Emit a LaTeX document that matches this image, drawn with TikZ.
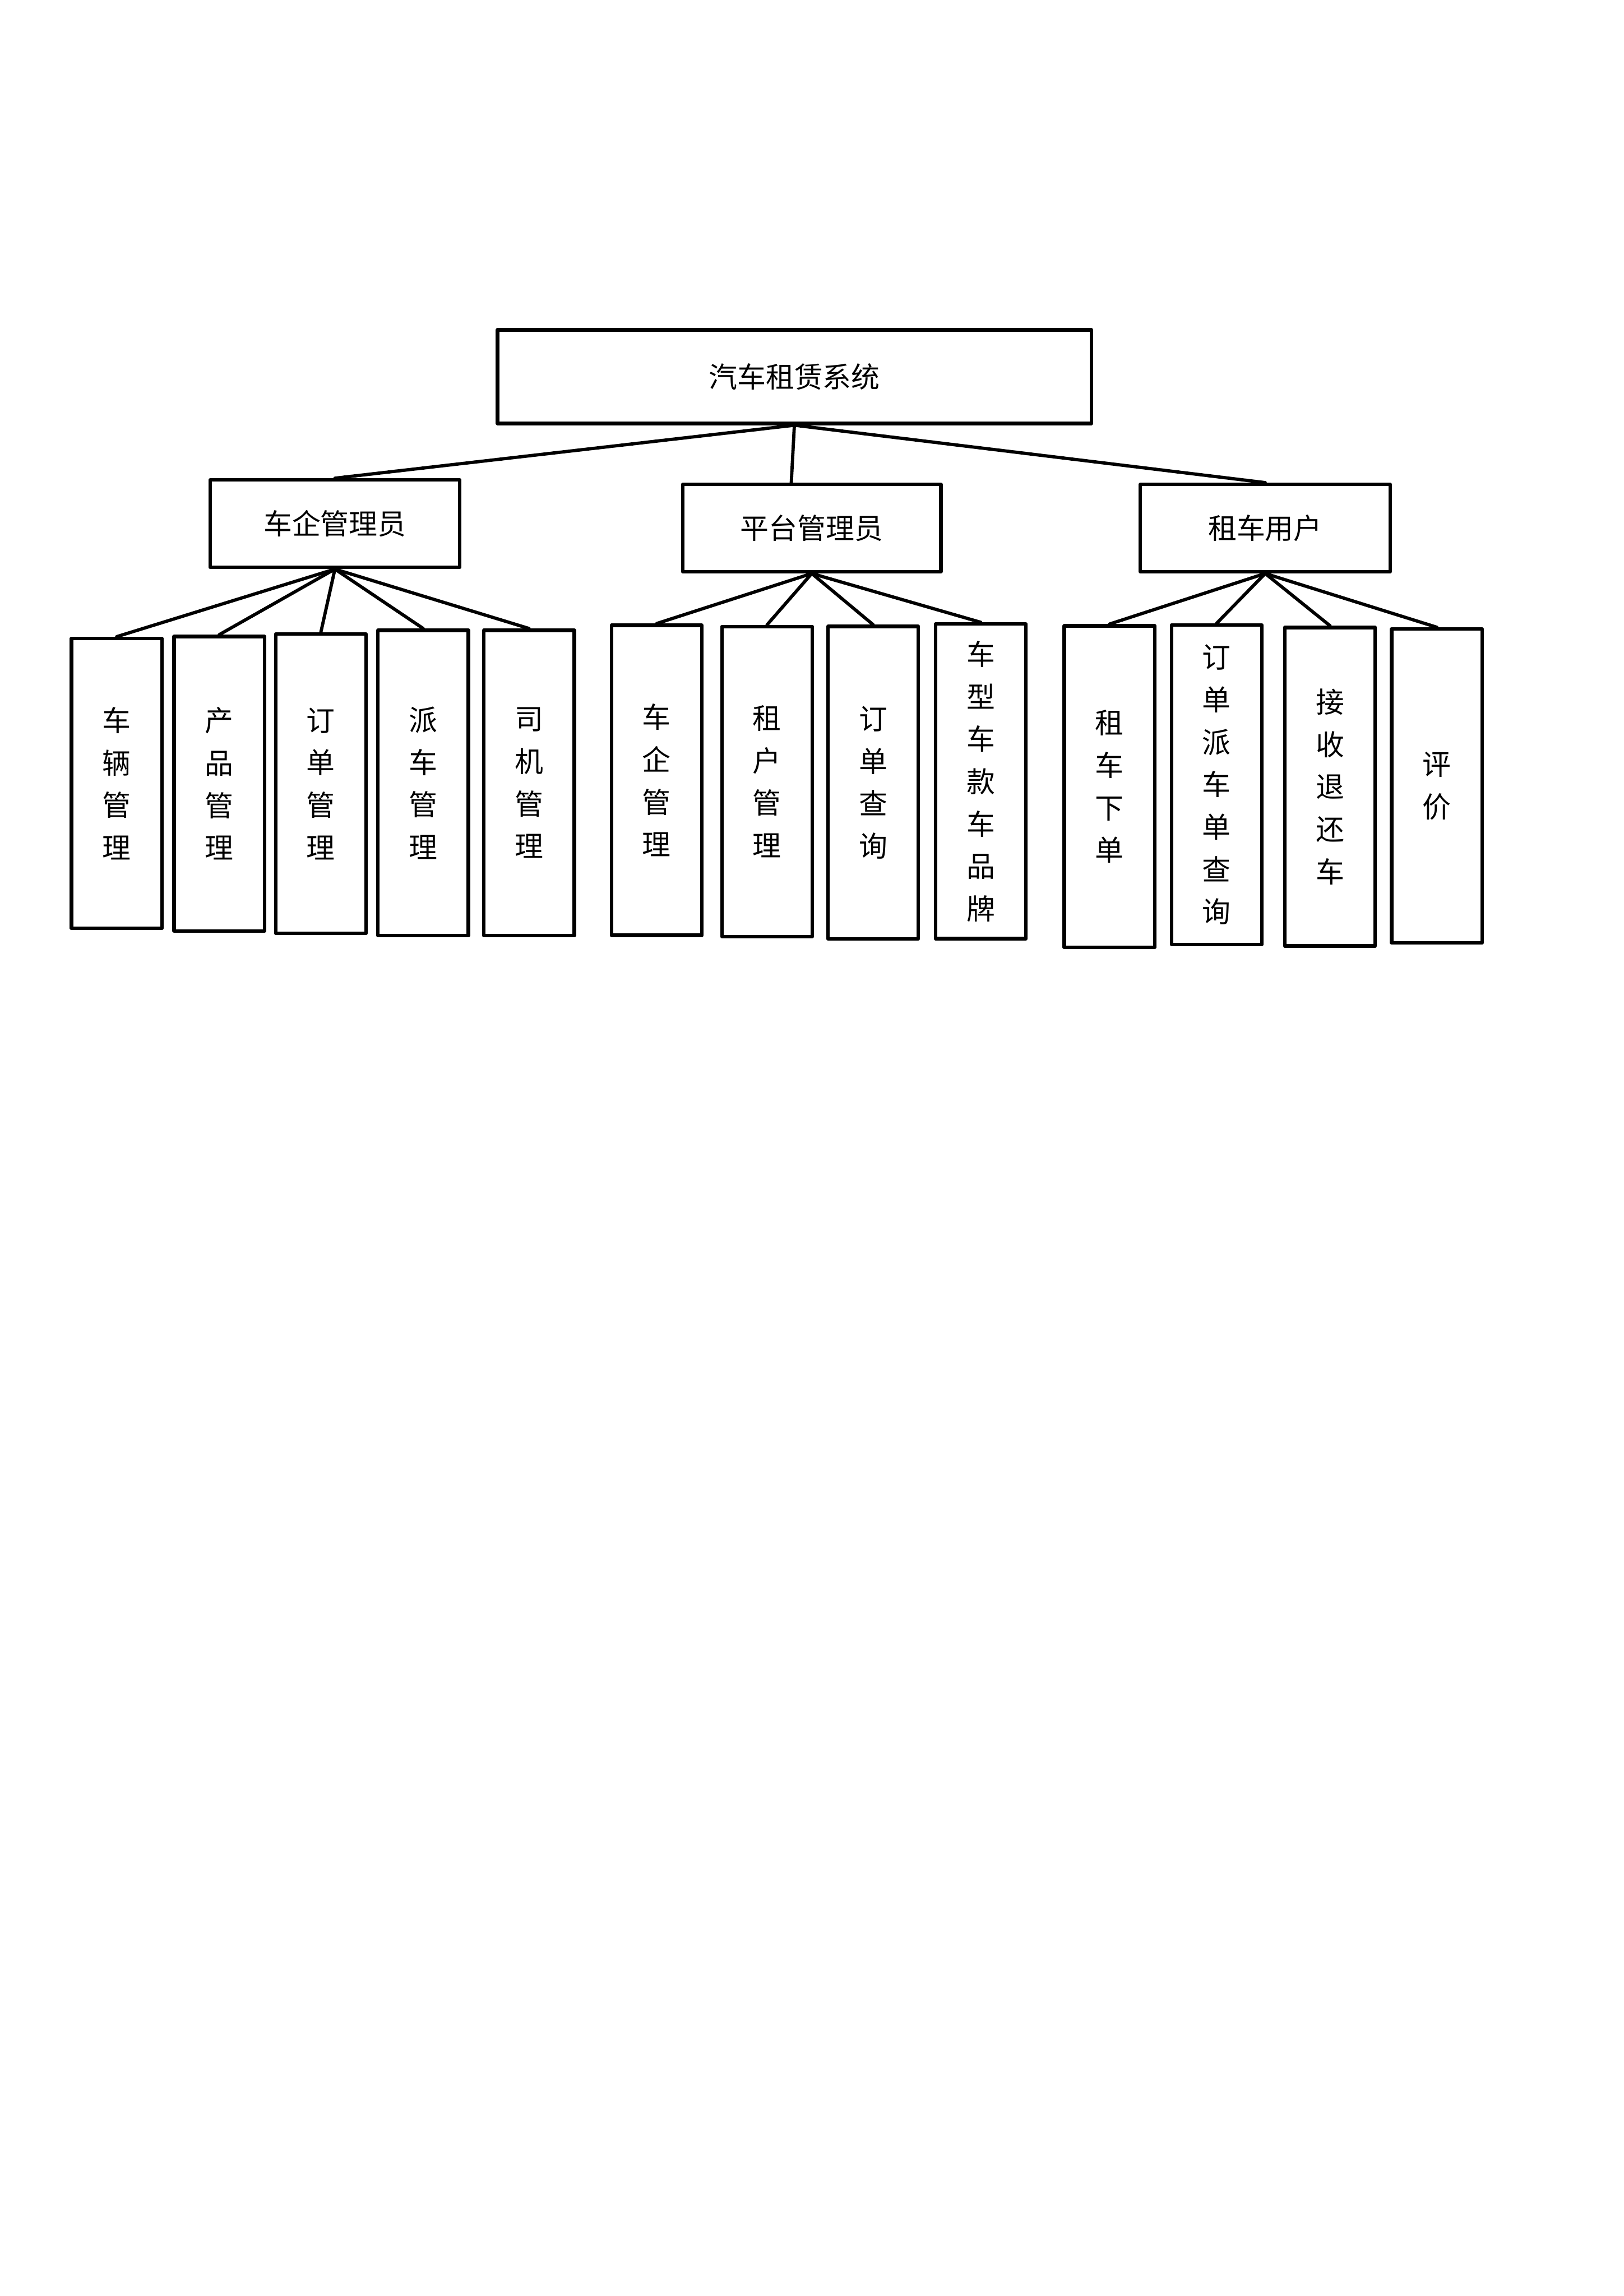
\documentclass[tikz,border=0pt]{standalone}
\usepackage{fontspec}
\newfontfamily\cjk{Noto Sans CJK SC}

\begin{document}
\begin{tikzpicture}[line cap=round,line join=round,x=1.0cm,y=1.0cm,
	box/.style={draw,line width=1.3pt,inner sep=0pt,font=\cjk\fontsize{10.5}{15.6}\selectfont,align=center},
	leaf/.style={box,minimum width=1.17cm},
	link/.style={line width=1.2pt}]
	\useasboundingbox (0,0) rectangle (21,29.7);
	% top
	\node[box,minimum width=7.68cm,minimum height=1.21cm] (sys) at (10.275,24.827) {汽车租赁系统};
	% second level
	\node[box,minimum width=3.23cm,minimum height=1.13cm] (qiye) at (4.332,22.926) {车企管理员};
	\node[box,minimum width=3.34cm,minimum height=1.13cm] (pingtai) at (10.500,22.869) {平台管理员};
	\node[box,minimum width=3.23cm,minimum height=1.13cm] (yonghu) at (16.365,22.869) {租车用户};
	\coordinate (ptin) at ([xshift=-0.04cm]sys.south |- pingtai.north);
	\draw [link] (sys.south) -- (qiye.north);
	\draw [link] (sys.south) -- (ptin);
	\draw [link] (sys.south) -- (yonghu.north);
	% 车企管理员
	\node[leaf,minimum height=3.75cm] (cheliang) at (1.509,19.566) {车\\辆\\管\\理};
	\node[leaf,minimum height=3.81cm] (chanpin) at (2.836,19.562) {产\\品\\管\\理};
	\node[leaf,minimum height=3.87cm] (dingdan) at (4.150,19.562) {订\\单\\管\\理};
	\node[leaf,minimum height=3.95cm] (paiche) at (5.474,19.572) {派\\车\\管\\理};
	\node[leaf,minimum height=3.95cm] (siji) at (6.843,19.572) {司\\机\\管\\理};
	\draw [link] (qiye.south) -- (cheliang.north);
	\draw [link] (qiye.south) -- (chanpin.north);
	\draw [link] (qiye.south) -- (dingdan.north);
	\draw [link] (qiye.south) -- (paiche.north);
	\draw [link] (qiye.south) -- (siji.north);
	% 平台管理员
	\node[leaf,minimum height=4.01cm] (chequ) at (8.494,19.606) {车\\企\\管\\理};
	\node[leaf,minimum height=4.01cm] (zuhu) at (9.922,19.590) {租\\户\\管\\理};
	\node[leaf,minimum height=4.04cm] (chaxun) at (11.294,19.576) {订\\单\\查\\询};
	\node[leaf,minimum height=4.07cm] (chexing) at (12.686,19.592) {车\\型\\车\\款\\车\\品\\牌};
	\draw [link] (pingtai.south) -- (chequ.north);
	\draw [link] (pingtai.south) -- (zuhu.north);
	\draw [link] (pingtai.south) -- (chaxun.north);
	\draw [link] (pingtai.south) -- (chexing.north);
	% 租车用户
	\node[leaf,minimum height=4.16cm] (xiadan) at (14.351,19.524) {租\\车\\下\\单};
	\node[leaf,minimum height=4.13cm] (paidan) at (15.737,19.549) {订\\单\\派\\车\\单\\查\\询};
	\node[leaf,minimum height=4.12cm] (huanche) at (17.203,19.523) {接\\收\\退\\还\\车};
	\node[leaf,minimum height=4.06cm] (pingjia) at (18.585,19.533) {评\\价};
	\draw [link] (yonghu.south) -- (xiadan.north);
	\draw [link] (yonghu.south) -- (paidan.north);
	\draw [link] (yonghu.south) -- (huanche.north);
	\draw [link] (yonghu.south) -- (pingjia.north);
\end{tikzpicture}
\end{document}
